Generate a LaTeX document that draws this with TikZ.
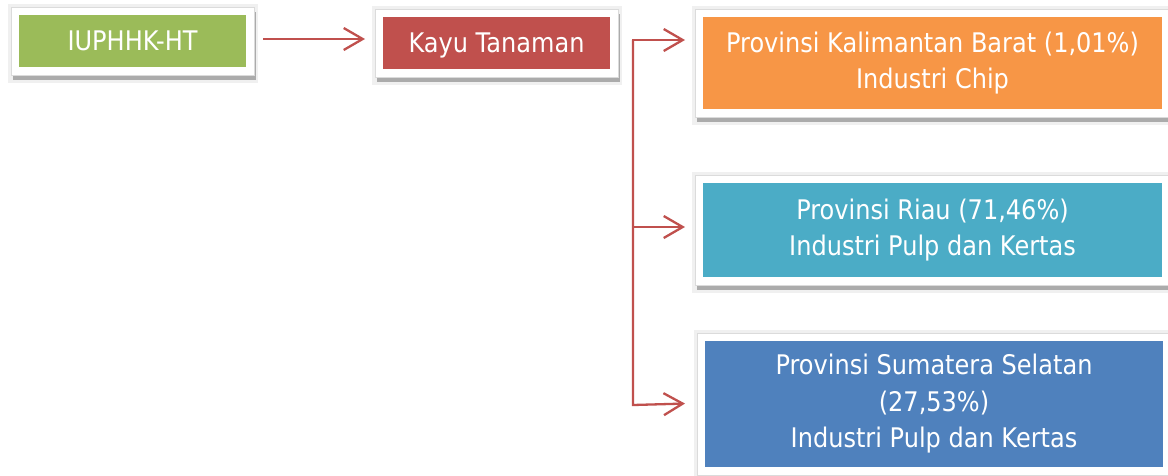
\documentclass[tikz,border=0pt]{standalone}
\usepackage{fontspec}
\setmainfont{DejaVu Sans}[FakeStretch=0.89]
\usetikzlibrary{arrows.meta,backgrounds}
\definecolor{cgreen}{HTML}{9BBB59}
\definecolor{cred}{HTML}{C0504D}
\definecolor{corange}{HTML}{F79646}
\definecolor{cteal}{HTML}{4BACC6}
\definecolor{cblue}{HTML}{4F81BD}
\definecolor{carrow}{HTML}{C0504D}
\begin{document}
\begin{tikzpicture}[x=1pt,y=-1pt,
  box/.style={inner sep=0pt, outer sep=0pt, text=white, align=center,
    font=\fontsize{27pt}{36.5pt}\selectfont},
  smallbox/.style={box, text depth=0pt, minimum width=227pt, minimum height=52pt},
  conn/.style={draw=carrow, line width=2.3pt},
  arr/.style={conn, -{Straight Barb[length=19pt,width=22pt,line width=2.3pt]}},
]
\useasboundingbox (0,0) rectangle (1168,475);

\node[smallbox, fill=cgreen] (g) at (132.5,41) {IUPHHK-HT};
\node[smallbox, fill=cred] (k) at (496.5,43) {Kayu Tanaman};
\node[box, fill=corange, minimum width=459pt, minimum height=92pt] (o) at (932.5,63)
  {Provinsi Kalimantan Barat (1,01\%)\\Industri Chip};
\node[box, fill=cteal, minimum width=459pt, minimum height=94pt] (r) at (932.5,230)
  {Provinsi Riau (71,46\%)\\Industri Pulp dan Kertas};
\node[box, fill=cblue, minimum width=458pt, minimum height=126pt] (s) at (934,404)
  {Provinsi Sumatera Selatan\\(27,53\%)\\Industri Pulp dan Kertas};

\begin{scope}[on background layer]
\fill[white] (0,0) rectangle (1168,475);
\foreach \n in {g,k,o,r,s}{
  \fill[black!6] ([shift={(-11pt,11pt)}]\n.north west) rectangle ([shift={(12pt,-16pt)}]\n.south east);
  \fill[black!33] ([shift={(-6pt,3pt)}]\n.north west) rectangle ([shift={(10pt,-13pt)}]\n.south east);
  \filldraw[fill=white, draw=black!14, line width=0.6pt] ([shift={(-8pt,8pt)}]\n.north west) rectangle ([shift={(8pt,-8pt)}]\n.south east);
}
\end{scope}

\coordinate (j1) at (633,40);
\coordinate (j2) at (633,227);
\coordinate (j3) at (633,405);

\draw[arr, shorten <=17pt, shorten >=18pt] ([yshift=2pt]g.east) -- ([yshift=2pt]g.east -| k.west);
\draw[arr, shorten >=18pt] (j3) -- (j1) -- (j1 -| o.west);
\draw[arr, shorten >=18pt] (j2) -- (j2 -| r.west);
\draw[arr, shorten >=20pt] (j1) -- (j3) -- ([yshift=2pt]j3 -| s.west);
\end{tikzpicture}
\end{document}
